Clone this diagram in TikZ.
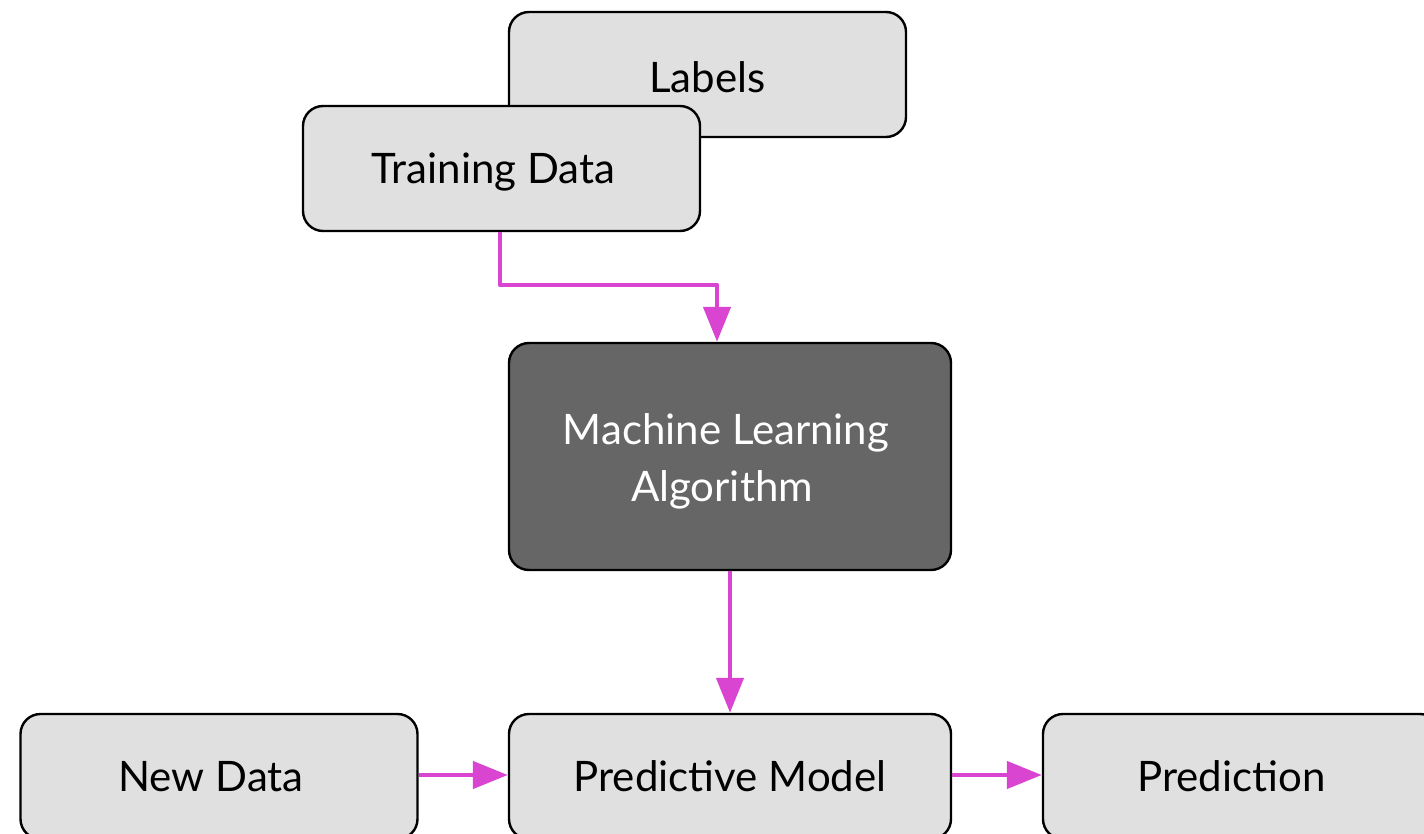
\documentclass[tikz,border=0pt]{standalone}
\usepackage{fontspec}
\setmainfont{Lato}
\usetikzlibrary{arrows.meta}
\definecolor{boxgray}{HTML}{E0E0E0}
\definecolor{darkbox}{HTML}{666666}
\definecolor{arrowmag}{HTML}{D944D0}
\newcommand{\lowr}[2]{\raisebox{-#1}[\height][\depth]{#2}}
\tikzset{
  box/.style={draw=black, line width=2.4pt, rounded corners=20pt, fill=boxgray,
    minimum width=397pt, minimum height=125pt, inner sep=0pt, align=center,
    font=\fontsize{42}{57}\selectfont, text=black},
  darkbox/.style={box, fill=darkbox, text=white, minimum width=442pt, minimum height=227pt},
  widebox/.style={box, minimum width=442pt},
  conn/.style={draw=arrowmag, line width=4.5pt, -{Triangle[length=35pt,width=27pt]}}
}
\begin{document}
\begin{tikzpicture}[x=1pt,y=-1pt]
\useasboundingbox (0,0) rectangle (1424,834);
\fill[white] (0,0) rectangle (1424,834);
\clip (0,0) rectangle (1424,834);
\node[box] (labels) at (707.5,74.5) {\lowr{3pt}{Labels}};
\node[box] (train) at (501.5,168.5) {\hspace*{-16pt}\lowr{4pt}{Training Data}};
\node[darkbox] (ml) at (730,456.5) {\hspace*{-8pt}\lowr{5pt}{Machine Learning}\\\hspace*{-16pt}\lowr{5pt}{Algorithm}};
\node[box] (new) at (219,776.5) {\hspace*{-16pt}New Data};
\node[widebox] (model) at (730,776.5) {Predictive Model};
\node[box] (pred) at (1241.5,776.5) {\hspace*{-20pt}Prediction};
\coordinate (bend) at (717,285);
\draw[conn, line join=round] (train.south -| 500,0) |- (bend) -- (bend |- ml.north);
\draw[conn] (ml.south) -- (model.north);
\draw[conn] (new.east |- 0,775) -- (model.west |- 0,775);
\draw[conn] (model.east |- 0,775) -- (pred.west |- 0,775);
\end{tikzpicture}
\end{document}
